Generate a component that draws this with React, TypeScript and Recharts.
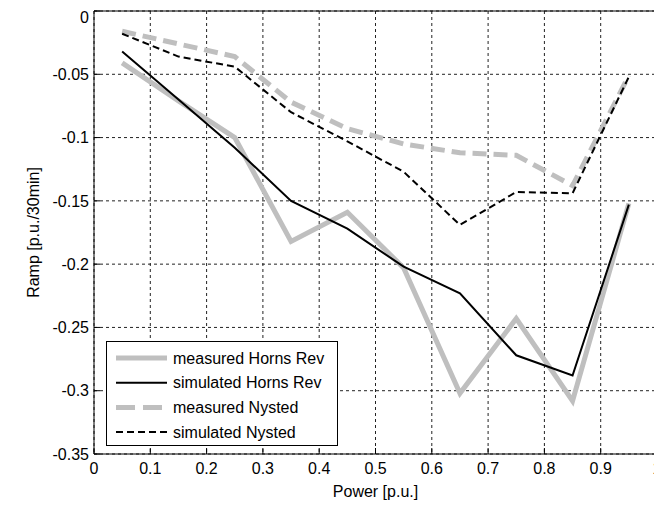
import {
  LineChart,
  Line,
  XAxis,
  YAxis,
  CartesianGrid,
  Legend,
} from "recharts";

// power bins (x) and ramp values (y)
const powerBins = [0.05, 0.15, 0.25, 0.35, 0.45, 0.55, 0.65, 0.75, 0.85, 0.95];
const measuredHornsRev = [-0.041, -0.071, -0.1, -0.182, -0.159, -0.203, -0.302, -0.243, -0.308, -0.152];
const simulatedHornsRev = [-0.032, -0.07, -0.108, -0.15, -0.172, -0.202, -0.223, -0.272, -0.288, -0.153];
const measuredNysted = [-0.016, -0.026, -0.036, -0.072, -0.093, -0.105, -0.112, -0.114, -0.138, -0.051];
const simulatedNysted = [-0.018, -0.036, -0.044, -0.08, -0.103, -0.127, -0.169, -0.143, -0.144, -0.052];

const xTicks = [0, 0.1, 0.2, 0.3, 0.4, 0.5, 0.6, 0.7, 0.8, 0.9, 1];
const yTicks = [-0.35, -0.3, -0.25, -0.2, -0.15, -0.1, -0.05, 0];

const data = powerBins.map((p, i) => ({
  p,
  mhr: measuredHornsRev[i],
  shr: simulatedHornsRev[i],
  mny: measuredNysted[i],
  sny: simulatedNysted[i],
}));

const FONT = "'Liberation Sans', Arial, Helvetica, sans-serif";
const GRAY = "#bfbfbf";

const series = [
  { key: "mhr", name: "measured Horns Rev", color: GRAY, width: 5, dash: undefined },
  { key: "shr", name: "simulated Horns Rev", color: "#000", width: 2, dash: undefined },
  { key: "mny", name: "measured Nysted", color: GRAY, width: 5, dash: "14 7" },
  { key: "sny", name: "simulated Nysted", color: "#000", width: 2, dash: "7 4" },
];

const LegendBox = () => (
  <svg width={232} height={105} style={{ display: "block" }}>
    <rect x={0.5} y={0.5} width={231} height={104} fill="#fff" stroke="#000" />
    {series.map((s, i) => {
      const cy = 17 + i * 24.7;
      return (
        <g key={s.key}>
          <line
            x1={10}
            x2={61}
            y1={cy}
            y2={cy}
            stroke={s.color}
            strokeWidth={s.width}
            strokeDasharray={s.dash === "14 7" ? "19 8" : s.dash}
          />
          <text
            x={67}
            y={cy + 5.5}
            fontSize={16}
            fontFamily={FONT}
            fill="#000"
          >
            {s.name}
          </text>
        </g>
      );
    })}
  </svg>
);

export default function App() {
  const tickStyle = { fill: "#000", fontSize: 16, fontFamily: FONT };
  return (
    <LineChart
      width={654}
      height={497}
      data={data}
      margin={{ top: 2, right: 4, left: 0, bottom: 0 }}
    >
      <CartesianGrid stroke="#222" strokeDasharray="3 3" />
      <XAxis
        dataKey="p"
        type="number"
        domain={[0, 1]}
        ticks={xTicks}
        allowDataOverflow
        height={51}
        stroke="#000"
        tickSize={-6}
        tickMargin={15}
        tick={tickStyle}
        label={{
          content: ({ viewBox }: any) => (
            <text
              x={viewBox.x + viewBox.width / 2}
              y={viewBox.y + 43}
              textAnchor="middle"
              fontSize={16}
              fontFamily={FONT}
              fill="#000"
            >
              Power [p.u.]
            </text>
          ),
        }}
      />
      <XAxis
        xAxisId="top"
        orientation="top"
        type="number"
        domain={[0, 1]}
        ticks={xTicks}
        allowDataOverflow
        height={1}
        stroke="#000"
        tickSize={-6}
        tick={false}
      />
      <YAxis
        type="number"
        domain={[-0.35, 0]}
        ticks={yTicks}
        allowDataOverflow
        width={86}
        stroke="#000"
        tickSize={-6}
        tickMargin={11}
        tick={tickStyle}
        label={{
          content: ({ viewBox }: any) => {
            const cx = 25;
            const cy = viewBox.y + viewBox.height / 2;
            return (
              <text
                x={cx}
                y={cy}
                transform={`rotate(-90 ${cx} ${cy})`}
                textAnchor="middle"
                dominantBaseline="central"
                fontSize={16}
                fontFamily={FONT}
                fill="#000"
              >
                Ramp [p.u./30min]
              </text>
            );
          },
        }}
      />
      <YAxis
        yAxisId="right"
        orientation="right"
        type="number"
        domain={[-0.35, 0]}
        ticks={yTicks}
        allowDataOverflow
        width={1}
        stroke="#000"
        tickSize={-6}
        tick={false}
      />
      {series.map((s) => (
        <Line
          key={s.key}
          dataKey={s.key}
          name={s.name}
          type="linear"
          stroke={s.color}
          strokeWidth={s.width}
          strokeDasharray={s.dash}
          strokeLinejoin="miter"
          dot={false}
          activeDot={false}
          isAnimationActive={false}
        />
      ))}
      <Legend
        layout="vertical"
        align="center"
        verticalAlign="middle"
        content={() => <LegendBox />}
        wrapperStyle={{ left: 98, top: 333, width: 232, height: 105 }}
      />
    </LineChart>
  );
}
